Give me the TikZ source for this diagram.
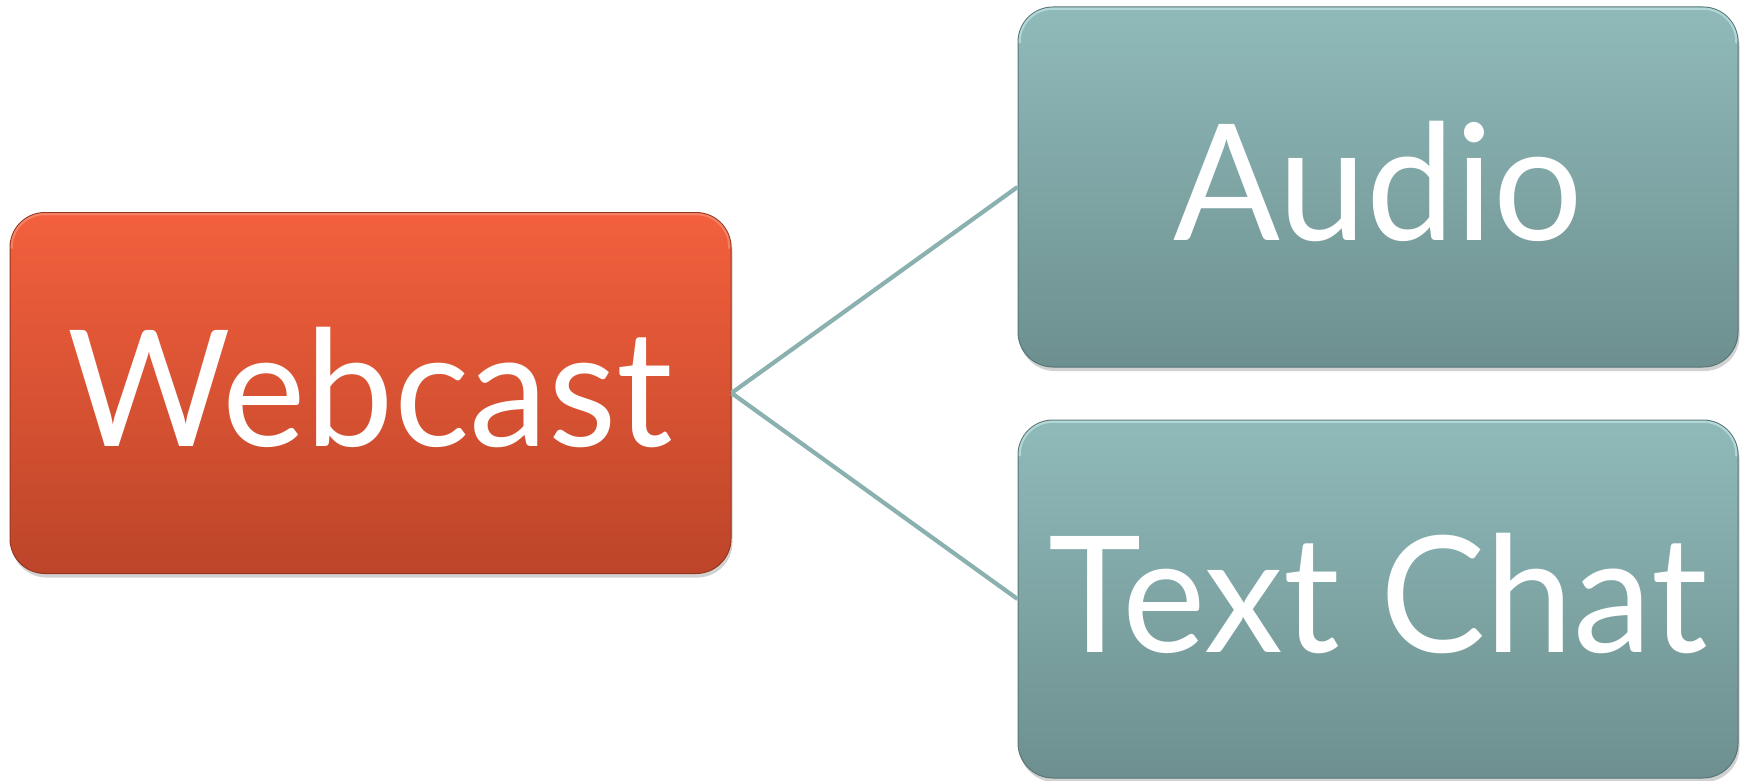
\documentclass[tikz,border=0pt]{standalone}
\usepackage{fontspec}
\setmainfont{Lato}[FakeStretch=0.975]
\usetikzlibrary{shadows,calc}
\definecolor{orTop}{HTML}{F3603D}
\definecolor{orBot}{HTML}{BD4529}
\definecolor{orEdge}{HTML}{93371F}
\definecolor{orHi}{HTML}{F8937A}
\definecolor{tlTop}{HTML}{90BABA}
\definecolor{tlBot}{HTML}{6D8F8F}
\definecolor{tlEdge}{HTML}{587676}
\definecolor{tlHi}{HTML}{C6E6E6}
\definecolor{conn}{HTML}{8AB0AF}
\begin{document}
\begin{tikzpicture}[x=1pt,y=-1pt,
  box/.style={rounded corners=35pt, inner sep=0pt, text=white, text depth=12pt,
    font=\fontsize{162}{170}\selectfont, line width=1pt,
    drop shadow={shadow xshift=1.5pt, shadow yshift=-4pt, fill=black, opacity=0.18}},
  orbox/.style={box, draw=orEdge, top color=orTop, bottom color=orBot},
  tlbox/.style={box, draw=tlEdge, top color=tlTop, bottom color=tlBot},
  hilite/.style={draw=#1, line width=2.2pt, rounded corners=33pt, opacity=0.65, line cap=round},
  link/.style={draw=conn, line width=4.2pt}
]
\useasboundingbox (0,0) rectangle (1747,781);
\node[orbox, minimum width=721pt, minimum height=361pt] (web) at (370.5,393) {Webcast};
\node[tlbox, minimum width=720pt, minimum height=360pt] (audio) at (1378,187) {Audio};
\node[tlbox, minimum width=720pt, minimum height=358pt] (chat) at (1378,599) {Text Chat};
\draw[hilite=orHi] ([shift={(2.2,36)}]web.north west) |- ([shift={(-2.2,2.2)}]web.north east) -- ([shift={(-2.2,36)}]web.north east);
\draw[hilite=tlHi] ([shift={(2.2,36)}]audio.north west) |- ([shift={(-2.2,2.2)}]audio.north east) -- ([shift={(-2.2,36)}]audio.north east);
\draw[hilite=tlHi] ([shift={(2.2,36)}]chat.north west) |- ([shift={(-2.2,2.2)}]chat.north east) -- ([shift={(-2.2,36)}]chat.north east);
\draw[link] (web.east) -- (audio.west);
\draw[link] (web.east) -- (chat.west);
\end{tikzpicture}
\end{document}
